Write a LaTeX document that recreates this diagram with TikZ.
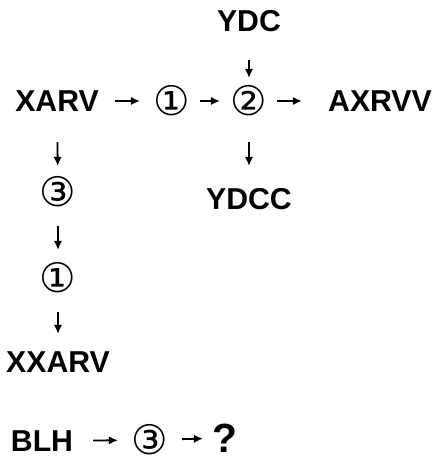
\documentclass[tikz,border=0pt]{standalone}
\usepackage{fontspec}
\setmainfont{Liberation Sans}
\newfontfamily\circfont{DejaVu Sans}
\usetikzlibrary{arrows, arrows.meta}
\tikzset{>=latex}

\begin{document}
\begin{tikzpicture}
    [
        x=0.025cm, y=-0.025cm,
        word_node/.style={inner sep=0pt, font=\fontsize{21.5}{24}\selectfont\bfseries},
        num_node/.style={inner sep=0pt, font=\fontsize{29}{32}\selectfont\circfont},
        ask_node/.style={inner sep=0pt, font=\fontsize{29}{32}\selectfont\bfseries},
        arr/.style={line width=1.3pt, -{Latex[length=6.5pt,width=6pt]}},
    ]
  \useasboundingbox (0,0) rectangle (433,463);

  \node[word_node] (A) at (249,21) {YDC};
  \node[word_node] (B) at (57,101) {XARV};
  \node[num_node] (C) at (172,101) {①};
  \node[num_node] (D) at (249,101) {②};
  \node[word_node] (E) at (380,101) {AXRVV};
  \node[num_node] (F) at (58,192) {③};
  \node[word_node] (G) at (249,199) {YDCC};
  \node[num_node] (H) at (58,278) {①};
  \node[word_node] (I) at (58,362) {XXARV};
  \node[word_node] (J) at (42,441) {BLH};
  \node[num_node] (K) at (150,440) {③};
  \node[ask_node] (L) at (225,438) {?};

  \draw[arr, shorten <=1.45cm, shorten >=0.8cm] (B.center) -- (C.center);
  \draw[arr, shorten <=0.7cm, shorten >=0.725cm] (C.center) -- (D.center);
  \draw[arr, shorten <=0.7cm, shorten >=1.95cm] (D.center) -- (E.center);
  \draw[arr, shorten <=0.975cm, shorten >=0.575cm] (A.center) -- (D.center);
  \draw[arr, shorten <=1.025cm, shorten >=0.825cm] (D.center) -- (G.center);
  \draw[arr, shorten <=1.025cm, shorten >=0.65cm] (B.center) -- (F.center);
  \draw[arr, shorten <=0.85cm, shorten >=0.7cm] (F.center) -- (H.center);
  \draw[arr, shorten <=0.85cm, shorten >=0.7cm] (H.center) -- (I.center);
  \draw[arr, shorten <=1.275cm, shorten >=0.8cm] (J.center) -- (K.center);
  \draw[arr, shorten <=0.8cm, shorten >=0.55cm] (K.center) -- (L.center);
\end{tikzpicture}
\end{document}
